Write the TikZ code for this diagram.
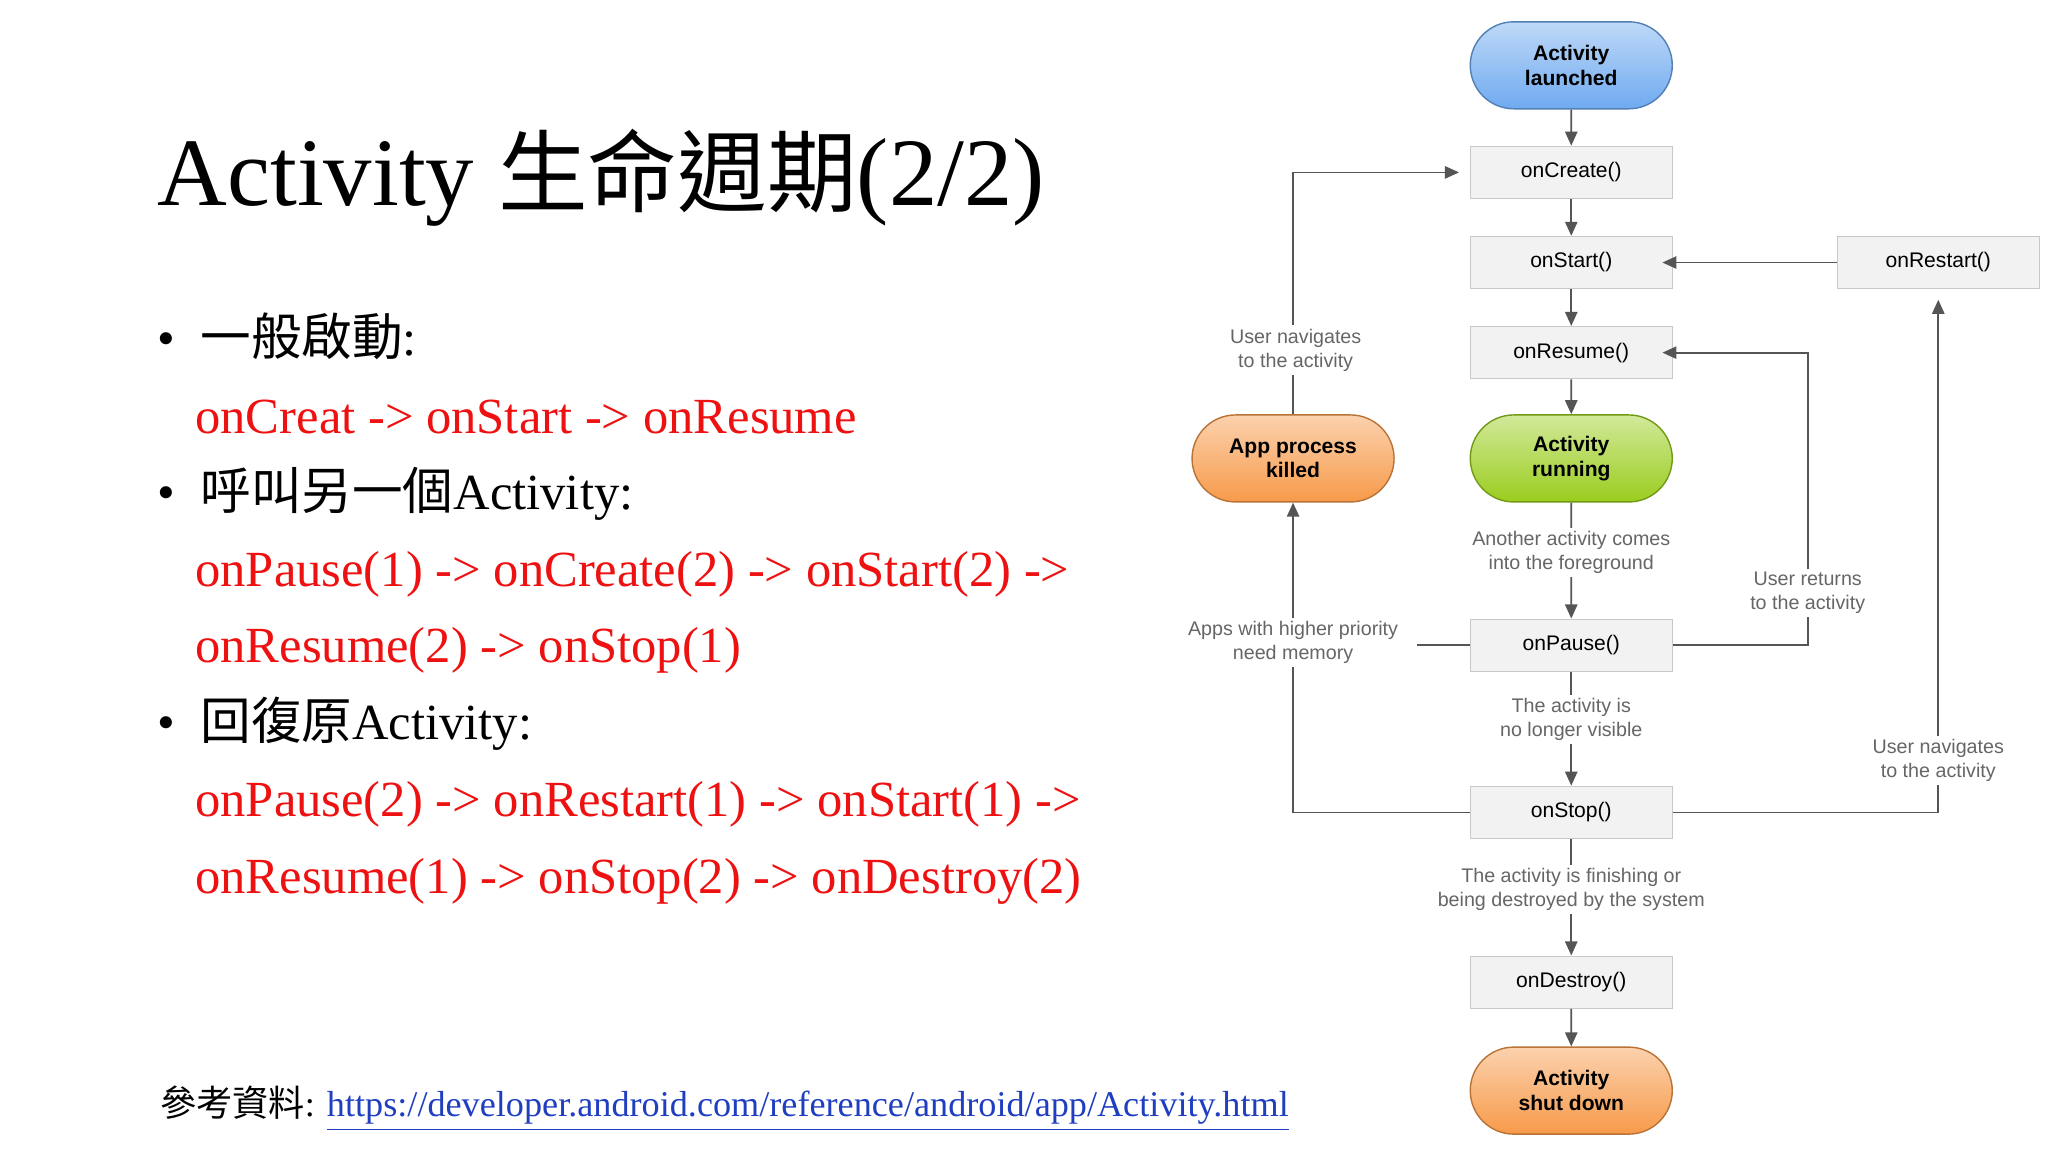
\documentclass[tikz,border=0pt]{standalone}
\usepackage{fontspec}
\setmainfont{Liberation Serif}
\newfontfamily\sans{Liberation Sans}
\newfontfamily\cjk{Noto Sans CJK TC}
\usetikzlibrary{shapes.misc,arrows.meta}
\definecolor{boxfill}{HTML}{F2F2F2}
\definecolor{boxdraw}{HTML}{C8C8C8}
\definecolor{ln}{HTML}{555555}
\definecolor{lbl}{HTML}{666666}
\definecolor{myred}{HTML}{EE1111}
\definecolor{urlblue}{HTML}{1F3FC0}
\definecolor{pblue}{HTML}{6FAAF0}
\definecolor{pgreen}{HTML}{9ACD1E}
\definecolor{porange}{HTML}{F79A4A}
\begin{document}
\begin{tikzpicture}[x=0.01306cm,y=-0.01306cm,
 box/.style={draw=boxdraw,fill=boxfill,minimum width=2.02cm,minimum height=0.52cm,inner sep=0pt,font=\sans\fontsize{6}{7}\selectfont},
 pill/.style={rounded rectangle,draw=#1!75!black,top color=#1!45,bottom color=#1,minimum width=2.02cm,minimum height=0.87cm,inner sep=0pt,align=center,font=\sans\bfseries\fontsize{6}{7}\selectfont},
 lab/.style={fill=white,align=center,text=lbl,inner sep=1pt,font=\sans\fontsize{5.6}{6.8}\selectfont},
 ar/.style={draw=ln,line width=0.5pt,-{Triangle[length=4pt,width=3.5pt]}},
 li/.style={draw=ln,line width=0.5pt},
 red/.style={text=myred,anchor=base west,inner sep=0pt,font=\fontsize{14.4}{17}\selectfont},
 blk/.style={anchor=base west,inner sep=0pt,font=\fontsize{14.4}{17}\selectfont}]
\useasboundingbox (0,0) rectangle (1568,882);
\node[anchor=base west,inner sep=0pt,font=\fontsize{27.5}{32}\selectfont] (title) at (120,157) {Activity {\cjk\fontsize{25.5}{32}\selectfont 生命週期}(2/2)};
\node[blk] (b1) at (120,272) {•\hspace{0.5em}{\cjk 一般啟動}:};
\node[red] (r1) at (149,332) {onCreat -> onStart -> onResume};
\node[blk] (b2) at (120,390) {•\hspace{0.5em}{\cjk 呼叫另一個}Activity:};
\node[red] (r2) at (149,449) {onPause(1) -> onCreate(2) -> onStart(2) ->};
\node[red] (r3) at (149,507) {onResume(2) -> onStop(1)};
\node[blk] (b3) at (120,566) {•\hspace{0.5em}{\cjk 回復原}Activity:};
\node[red] (r4) at (149,625) {onPause(2) -> onRestart(1) -> onStart(1) ->};
\node[red] (r5) at (149,684) {onResume(1) -> onStop(2) -> onDestroy(2)};
\node[anchor=base west,inner sep=0pt,font=\fontsize{10.3}{12}\selectfont] (ref) at (122,855) {{\cjk 參考資料}: \textcolor{urlblue}{\underline{https://developer.android.com/reference/android/app/Activity.html}}};

\node[pill=pblue] (launch) at (1203,50) {Activity\\launched};
\node[box] (create) at (1203,132) {onCreate()};
\node[box] (start) at (1203,201) {onStart()};
\node[box] (restart) at (1484,201) {onRestart()};
\node[box] (resume) at (1203,270) {onResume()};
\node[pill=pgreen] (running) at (1203,351) {Activity\\running};
\node[pill=porange] (killed) at (990,351) {App process\\killed};
\node[box] (pause) at (1203,494) {onPause()};
\node[box] (stop) at (1203,622) {onStop()};
\node[box] (destroy) at (1203,752) {onDestroy()};
\node[pill=porange] (shut) at (1203,835) {Activity\\shut down};

\draw[ar] (launch) -- (create);
\draw[ar] (create) -- (start);
\draw[ar] (start) -- (resume);
\draw[ar] (resume) -- (running);
\draw[ar] (running) -- (pause);
\draw[ar] (pause) -- (stop);
\draw[ar] (stop) -- (destroy);
\draw[ar] (destroy) -- (shut);
\draw[ar] (restart) -- ([xshift=-3pt]start.east);
\draw[ar] (killed.north) |- ([xshift=-3pt]create.west);
\draw[ar] (stop.west) -| (killed.south);
\coordinate (pl) at (1085,494);
\draw[li] (pause.west) -- (pl);
\draw[ar] (pause.east) -| (1384,300) |- ([xshift=-3pt]resume.east);
\draw[ar] (stop.east) -| ([yshift=-3pt]restart.south);

\node[lab] (l1) at (992,268) {User navigates\\to the activity};
\node[lab] (l2) at (1203,423) {Another activity comes\\into the foreground};
\node[lab] (l3) at (1384,454) {User returns\\to the activity};
\node[lab] (l4) at (990,492) {Apps with higher priority\\need memory};
\node[lab] (l5) at (1203,551) {The activity is\\no longer visible};
\node[lab] (l6) at (1484,582) {User navigates\\to the activity};
\node[lab] (l7) at (1203,681) {The activity is finishing or\\being destroyed by the system};
\end{tikzpicture}
\end{document}
